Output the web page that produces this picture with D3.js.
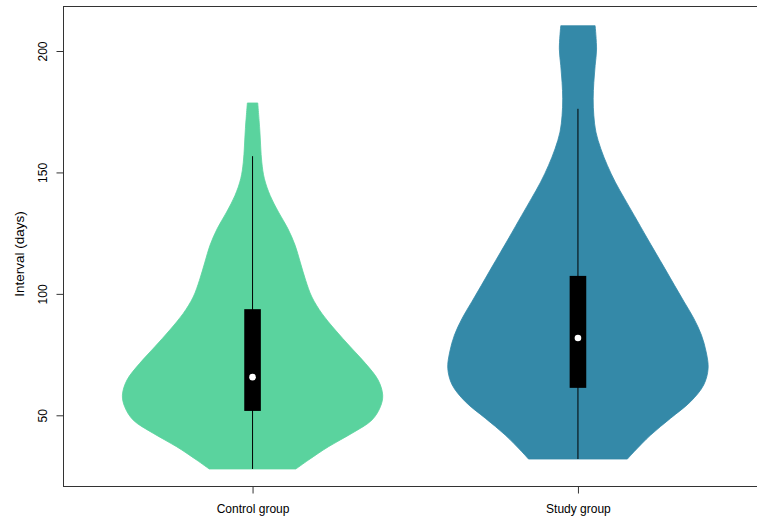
<!DOCTYPE html>
<html>
<head>
<meta charset="utf-8">
<script src="https://cdn.jsdelivr.net/npm/d3@7"></script>
<style>
  html, body { margin: 0; padding: 0; background: #fff; }
  svg { display: block; }
  text { font-family: "Liberation Sans", Arial, Helvetica, sans-serif; fill: #000; }
</style>
</head>
<body>
<svg id="chart" width="757" height="519"></svg>
<script>
// Groups and their colours
const groups = ["Control group", "Study group"];
const fills = ["#5ad39e", "#3489a8"];

// Kernel density profiles (interval value, relative density; peak = 1)
const controlValues  = [27.9, 31.6, 37.1, 42.6, 48.1, 53.5, 58.3, 64.5, 71.4, 78.2, 85.1, 91.9, 98.7, 105.6, 113.1, 120.0, 126.9, 133.7, 140.5, 147.4, 154.2, 168.0, 178.6];
const controlDensity = [0.333, 0.430, 0.584, 0.764, 0.918, 0.982, 1.0, 0.965, 0.867, 0.751, 0.636, 0.533, 0.456, 0.408, 0.366, 0.327, 0.271, 0.199, 0.135, 0.091, 0.071, 0.055, 0.040];
const studyValues    = [32.0, 35.0, 41.9, 48.8, 55.6, 62.5, 69.3, 76.1, 83.0, 89.9, 96.7, 103.5, 110.4, 117.2, 123.3, 132.3, 139.2, 146.0, 152.9, 159.7, 166.6, 173.4, 180.3, 187.1, 194.0, 200.8, 210.4];
const studyDensity   = [0.380, 0.431, 0.559, 0.712, 0.865, 0.966, 1.0, 0.985, 0.949, 0.890, 0.816, 0.742, 0.668, 0.594, 0.528, 0.432, 0.358, 0.287, 0.226, 0.176, 0.138, 0.122, 0.117, 0.122, 0.132, 0.143, 0.132];

// Box summaries: [lower whisker, Q1, median, Q3, upper whisker]
const controlBox = [27.9, 51.8, 65.7, 93.7, 156.7];
const studyBox   = [32.0, 61.3, 81.8, 107.4, 176.2];

// Axis ticks
const yTicks = [50, 100, 150, 200];
const yLabel = "Interval (days)";

const profiles = [
  { values: controlValues, density: controlDensity, box: controlBox },
  { values: studyValues, density: studyDensity, box: studyBox }
];

const svg = d3.select("#chart");
const plot = { left: 63.5, right: 767, top: 6.5, bottom: 486.5 };

// Group positions 1..n on a continuous axis, as in a base-graphics violin plot
const x = d3.scaleLinear().domain([0.419, 2.581]).range([plot.left, plot.right]);
const y = d3.scaleLinear().domain([50, 200]).range([415.3, 51.0]);
const halfWidth = d3.scaleLinear().domain([0, 1]).range([0, 0.4 * (x(2) - x(1))]);
const boxHalf = 8.3;

// Violins
profiles.forEach((p, i) => {
  const cx = x(i + 1);
  const pts = p.values.map((v, k) => ({ v, d: p.density[k] }));
  const area = d3.area()
    .y(d => y(d.v))
    .x0(d => cx - halfWidth(d.d))
    .x1(d => cx + halfWidth(d.d))
    .curve(d3.curveCatmullRom.alpha(0.5));
  svg.append("path")
    .datum(pts)
    .attr("d", area)
    .attr("fill", fills[i])
    .attr("stroke", fills[i])
    .attr("stroke-width", 0.8);

  // Whisker
  svg.append("line")
    .attr("x1", cx).attr("x2", cx)
    .attr("y1", y(p.box[0])).attr("y2", y(p.box[4]))
    .attr("stroke", "#000").attr("stroke-width", 1);
  // Interquartile box
  svg.append("rect")
    .attr("x", cx - boxHalf)
    .attr("width", boxHalf * 2)
    .attr("y", y(p.box[3]))
    .attr("height", y(p.box[1]) - y(p.box[3]))
    .attr("fill", "#000");
  // Median
  svg.append("circle")
    .attr("cx", cx).attr("cy", y(p.box[2]))
    .attr("r", 3.3)
    .attr("fill", "#fff");
});

// Plot frame (left, top, bottom; right side runs past the canvas)
svg.append("rect")
  .attr("x", plot.left).attr("y", plot.top)
  .attr("width", plot.right - plot.left)
  .attr("height", plot.bottom - plot.top)
  .attr("fill", "none")
  .attr("stroke", "#333")
  .attr("stroke-width", 1);

// Y axis
const yAxis = svg.append("g").attr("transform", `translate(${plot.left},0)`)
  .call(d3.axisLeft(y).tickValues(yTicks).tickSize(7).tickSizeOuter(0).tickFormat(d3.format("d")));
yAxis.select(".domain").remove();
yAxis.selectAll(".tick line").attr("stroke", "#333");
yAxis.selectAll(".tick text")
  .attr("font-size", 12)
  .attr("x", 0).attr("dy", 0)
  .attr("text-anchor", "middle")
  .attr("transform", "translate(-17,0) rotate(-90)")
  .attr("dominant-baseline", "auto");

// X axis
const xAxis = svg.append("g").attr("transform", `translate(0,${plot.bottom})`)
  .call(d3.axisBottom(x).tickValues([1, 2]).tickSize(7).tickSizeOuter(0)
    .tickFormat(d => groups[d - 1]));
xAxis.select(".domain").remove();
xAxis.selectAll(".tick line").attr("stroke", "#333");
xAxis.selectAll(".tick text")
  .attr("font-size", 12)
  .attr("y", 0).attr("dy", 0)
  .attr("transform", "translate(0,26.5)");

// Y axis title
svg.append("text")
  .attr("transform", "translate(24,254) rotate(-90)")
  .attr("text-anchor", "middle")
  .attr("font-size", 13.5)
  .text(yLabel);
</script>
</body>
</html>
